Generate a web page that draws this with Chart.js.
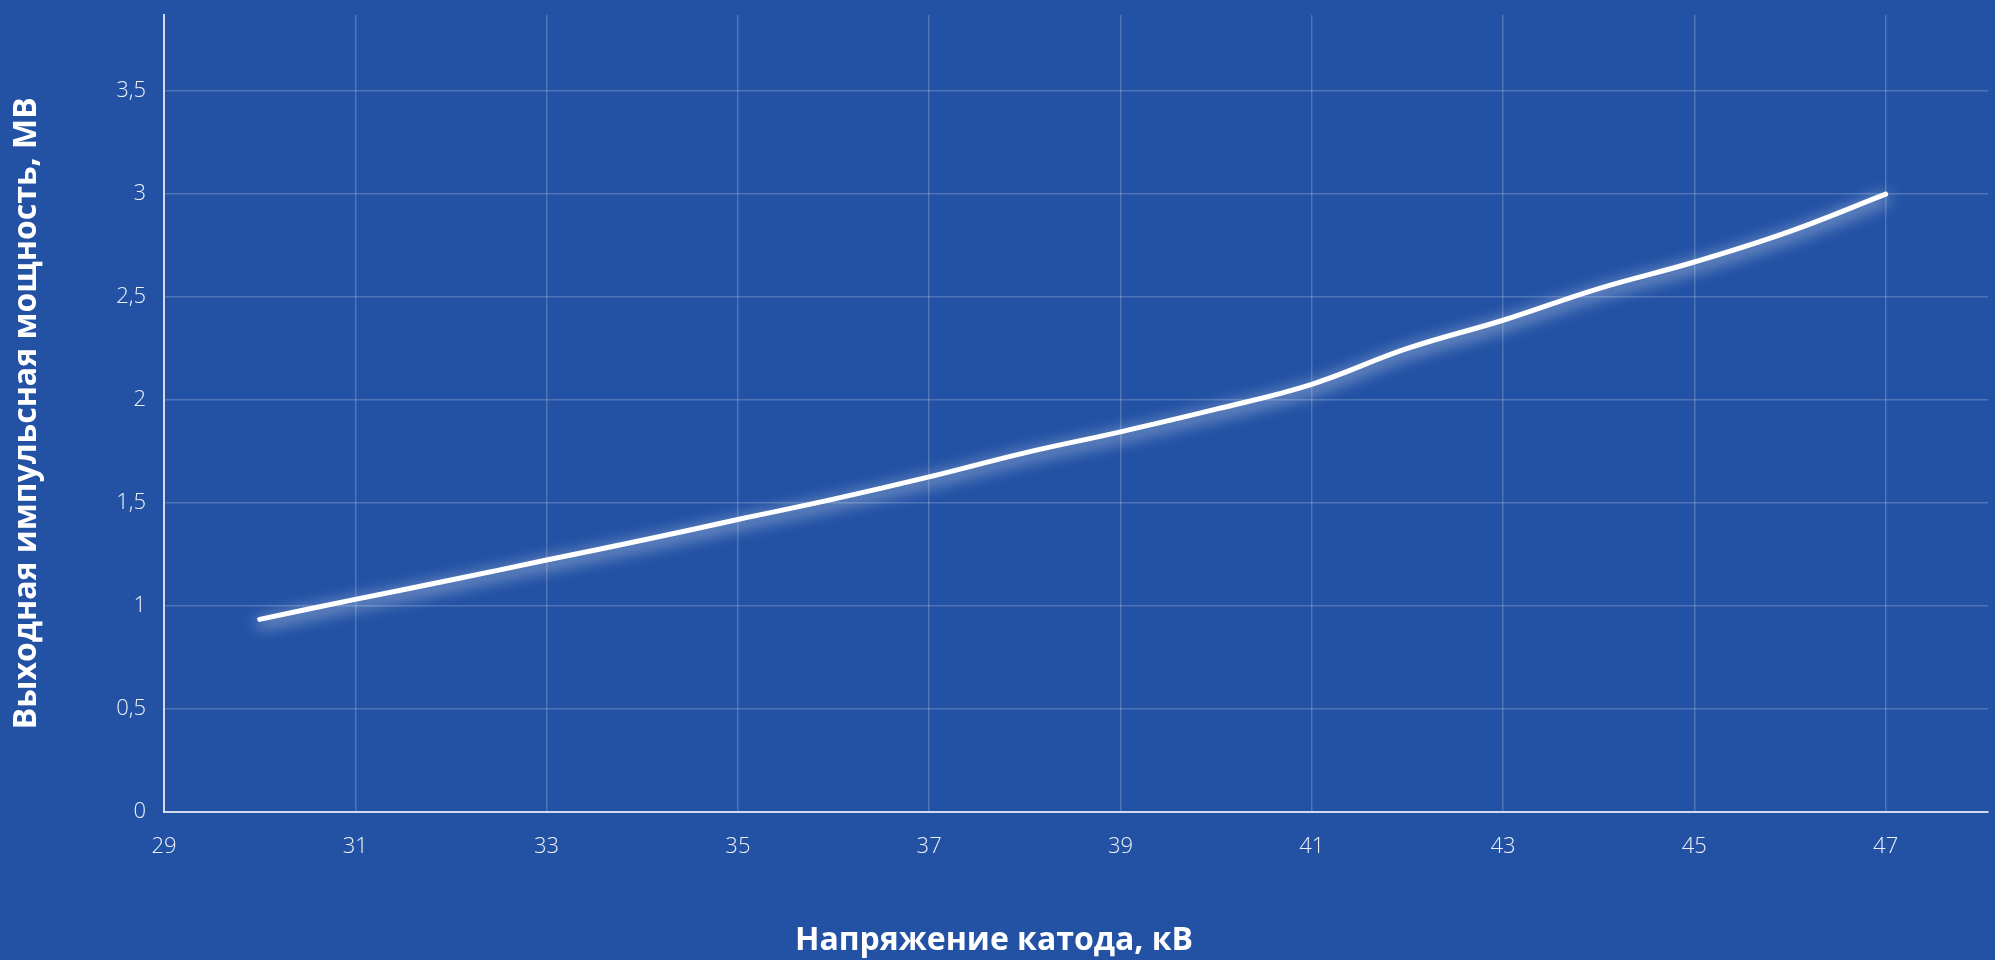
<!DOCTYPE html>
<html lang="ru">
<head>
<meta charset="utf-8">
<title>Выходная импульсная мощность</title>
<script src="https://cdn.jsdelivr.net/npm/chart.js@4/dist/chart.umd.min.js"></script>
<style>
  html, body { margin: 0; padding: 0; background: #2352a5; }
  canvas { display: block; }
</style>
</head>
<body>
<canvas id="chart" width="1995" height="960"></canvas>
<script>
// Cathode voltage, kV
const voltageKV = [30, 31, 32, 33, 34, 35, 36, 37, 38, 39, 40, 41, 42, 43, 44, 45, 46, 47];
// Output pulse power, MW
const powerMW = [0.934, 1.031, 1.125, 1.222, 1.318, 1.419, 1.518, 1.626, 1.743, 1.845, 1.955, 2.076, 2.25, 2.387, 2.541, 2.670, 2.819, 3.0];

const xTicks = [29, 31, 33, 35, 37, 39, 41, 43, 45, 47];
const yTicks = [0, 0.5, 1, 1.5, 2, 2.5, 3, 3.5];

const xTitle = 'Напряжение катода, кВ';
const yTitle = 'Выходная импульсная мощность, МВ';

const tickFont = { family: 'Open Sans', size: 22, weight: '300', lineHeight: 1.2 };
const titleFont = { family: 'Open Sans', size: 32, weight: '700', lineHeight: 1.2 };
const tickColor = 'rgba(255,255,255,0.92)';
const gridColor = 'rgba(255,255,255,0.2)';
const axisColor = 'rgba(235,240,250,0.85)';

// Soft white glow around the curve
const glowPlugin = {
  id: 'glow',
  beforeDatasetDraw(chart) {
    const ctx = chart.ctx;
    ctx.save();
    ctx.shadowColor = 'rgba(255,255,255,0.9)';
    ctx.shadowBlur = 16;
    ctx.shadowOffsetX = 0;
    ctx.shadowOffsetY = 4;
  },
  afterDatasetDraw(chart) {
    chart.ctx.restore();
  }
};

const fmt = v => String(v).replace('.', ',');

new Chart(document.getElementById('chart'), {
  type: 'line',
  data: {
    datasets: [{
      data: voltageKV.map((x, i) => ({ x, y: powerMW[i] })),
      borderColor: '#ffffff',
      borderWidth: 5,
      borderCapStyle: 'round',
      borderJoinStyle: 'round',
      tension: 0.4,
      pointRadius: 0,
      fill: false
    }]
  },
  plugins: [glowPlugin],
  options: {
    responsive: false,
    devicePixelRatio: 1,
    animation: false,
    layout: { padding: { top: 15, right: 7, left: 0, bottom: 0 } },
    plugins: {
      legend: { display: false },
      tooltip: { enabled: false },
      title: {
        display: true,
        position: 'bottom',
        text: xTitle,
        color: '#ffffff',
        font: titleFont,
        padding: { top: 10, bottom: 0 }
      }
    },
    scales: {
      x: {
        type: 'linear',
        min: 29,
        max: 48.07,
        afterBuildTicks: s => { s.ticks = xTicks.map(value => ({ value })); },
        afterFit: s => { s.height = 100; s.paddingLeft = 0; s.paddingRight = 0; },
        ticks: {
          color: tickColor,
          font: tickFont,
          padding: 22,
          maxRotation: 0,
          callback: v => fmt(v)
        },
        grid: { color: gridColor, lineWidth: 1.5, drawTicks: false },
        border: { color: axisColor, width: 2 }
      },
      y: {
        type: 'linear',
        min: 0,
        max: 3.87,
        afterBuildTicks: s => { s.ticks = yTicks.map(value => ({ value })); },
        afterFit: s => { s.width = 164; s.paddingTop = 0; s.paddingBottom = 0; },
        ticks: {
          color: tickColor,
          font: tickFont,
          padding: 18,
          callback: v => fmt(v)
        },
        grid: { color: gridColor, lineWidth: 1.5, drawTicks: false },
        border: { color: axisColor, width: 2 },
        title: {
          display: true,
          text: yTitle,
          color: '#ffffff',
          font: titleFont,
          padding: { top: 8, bottom: 0 }
        }
      }
    }
  }
});
</script>
</body>
</html>
